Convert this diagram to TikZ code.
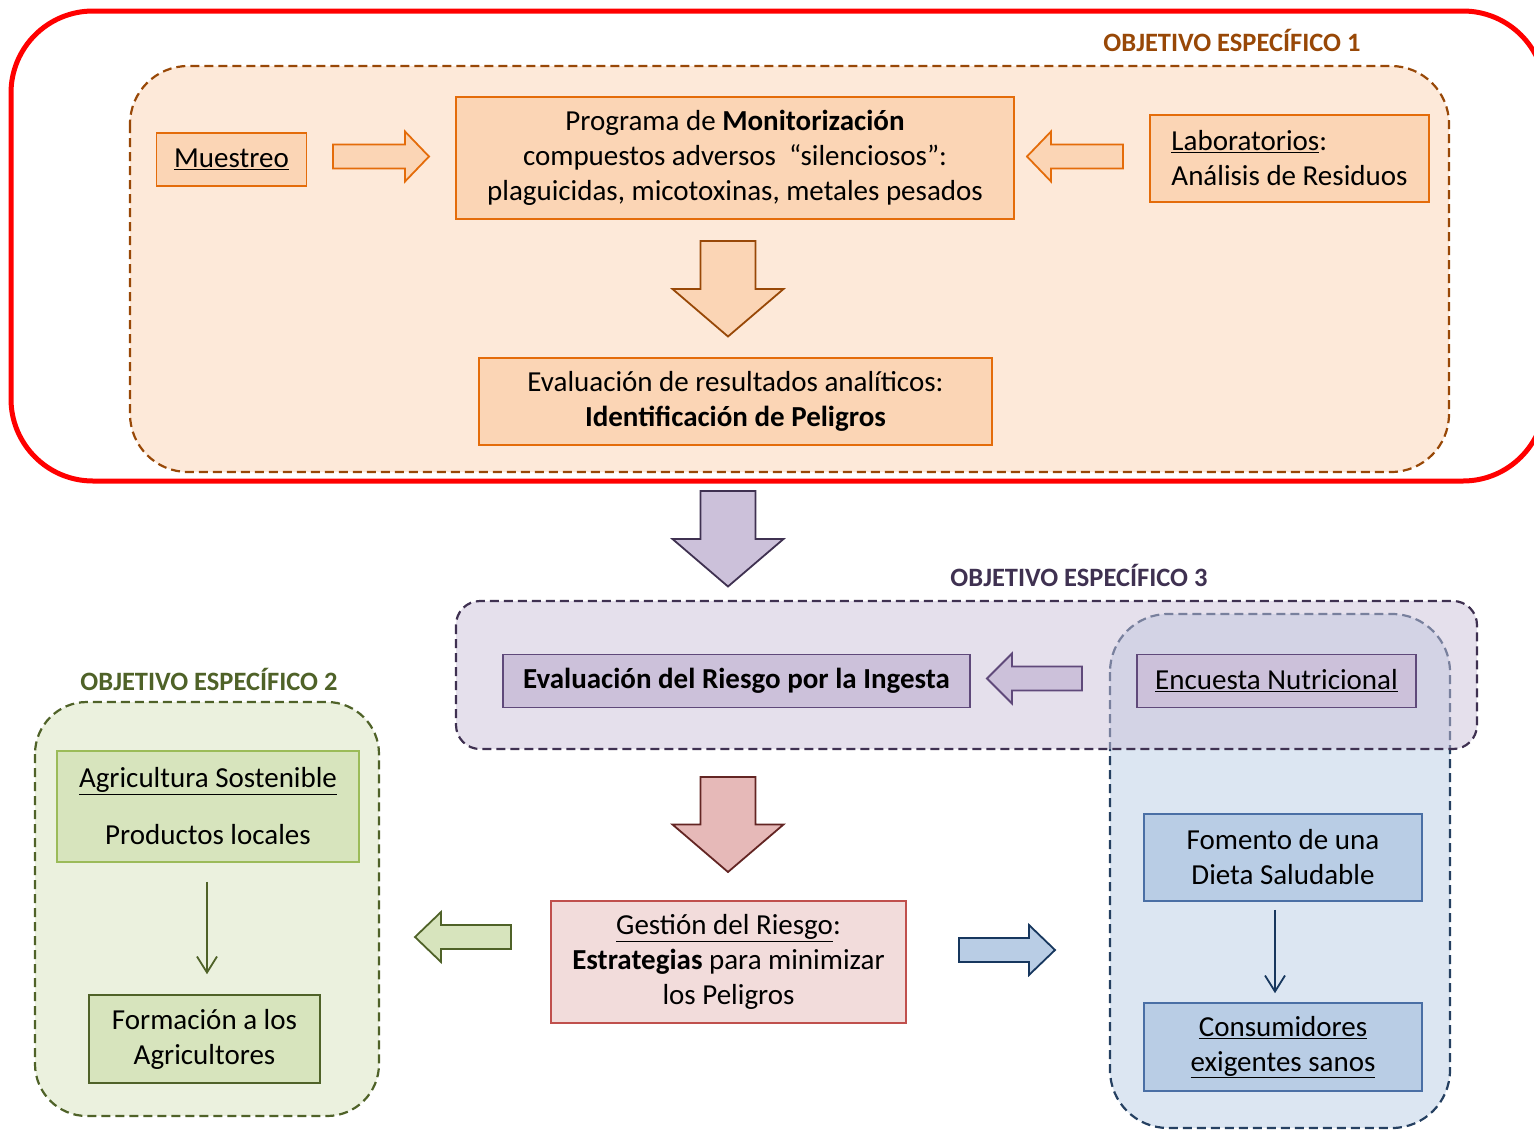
\documentclass[tikz,border=0pt]{standalone}
\usepackage{fontspec}
\setmainfont{Carlito}
\usetikzlibrary{calc,arrows.meta}

\definecolor{frame}{HTML}{FF0000}
\definecolor{obrown}{HTML}{984807}
\definecolor{opale}{HTML}{FDE9D9}
\definecolor{ofill}{HTML}{FBD5B5}
\definecolor{oline}{HTML}{E46C0A}
\definecolor{pdark}{HTML}{3F3151}
\definecolor{pfill}{HTML}{CCC1DA}
\definecolor{pline}{HTML}{5F497A}
\definecolor{rdark}{HTML}{632523}
\definecolor{rarrow}{HTML}{E6B9B8}
\definecolor{rfill}{HTML}{F2DCDB}
\definecolor{rline}{HTML}{C0504D}
\definecolor{gdark}{HTML}{4F6228}
\definecolor{gpale}{HTML}{EBF1DE}
\definecolor{gfill}{HTML}{D7E4BD}
\definecolor{gline}{HTML}{9BBB59}
\definecolor{bdark}{HTML}{254061}
\definecolor{bpale}{HTML}{DCE6F2}
\definecolor{bfill}{HTML}{B9CDE5}
\definecolor{bline}{HTML}{4A6FA5}
\definecolor{barrow}{HTML}{17375E}

% block arrow: style, tail, tip, body half width, head half width, head length
\newcommand{\fatarrow}[6]{%
  \coordinate (fa-s) at ($(#3)!#6!(#2)$);
  \draw[#1] ($(#2)!#4!90:(#3)$) -- ($(fa-s)!#4!90:(#3)$) -- ($(fa-s)!#5!90:(#3)$)
    -- (#3) -- ($(fa-s)!#5!-90:(#3)$) -- ($(fa-s)!#4!-90:(#3)$) -- ($(#2)!#4!-90:(#3)$) -- cycle;}

\begin{document}
\begin{tikzpicture}[x=1pt,y=-1pt,
    tbox/.style={draw, line width=1.6pt, inner sep=0pt, align=center,
      font=\fontsize{29}{35}\selectfont},
    obox/.style={tbox, fill=ofill, draw=oline},
    pbox/.style={tbox, fill=pfill, draw=pline},
    rbox/.style={tbox, fill=rfill, draw=rline},
    gbox/.style={tbox, fill=gfill, draw=gline},
    bbox/.style={tbox, fill=bfill, draw=bline},
    objlabel/.style={font=\bfseries\fontsize{26.5}{30}\selectfont},
    area/.style={line width=2.2pt, dash pattern=on 9pt off 5pt},
    thin/.style={line width=1.8pt, -{Straight Barb[length=16pt,width=20pt]}}]
  \useasboundingbox (0,0) rectangle (1534,1130);

  % objetivo 1
  \draw[line width=5pt, draw=frame, rounded corners=82pt] (11,11) rectangle (1545,481);
  \draw[area, draw=obrown, fill=opale, rounded corners=58pt] (130,66) rectangle (1449,472);
  \node[objlabel, text=obrown] (oe1) at (1232,40) {OBJETIVO ESPECÍFICO 1};

  \node[obox, minimum width=150pt, minimum height=53pt] (muestreo) at (231.5,159.5)
    {\underline{Muestreo}};
  \node[obox, minimum width=558pt, minimum height=122pt] (programa) at (735,158)
    {Programa de \textbf{Monitorización}\\ compuestos adversos\ \ “silenciosos”:\\
     plaguicidas, micotoxinas, metales pesados};
  \node[obox, minimum width=279pt, minimum height=87pt, align=left] (lab)
    at (1289.5,158.5) {\underline{Laboratorios}:\\ Análisis de Residuos};
  \node[obox, minimum width=513pt, minimum height=87pt] (evalres) at (735.5,401.5)
    {Evaluación de resultados analíticos:\\ \textbf{Identificación de Peligros}};

  \coordinate (r1a) at (333,156.5);  \coordinate (r1b) at (429,156.5);
  \coordinate (l1a) at (1123,156.5); \coordinate (l1b) at (1027,156.5);
  \coordinate (d1a) at (728,241);    \coordinate (d1b) at (728,336.5);
  \fatarrow{line width=1.8pt, draw=oline, fill=ofill}{r1a}{r1b}{12pt}{25pt}{24pt}
  \fatarrow{line width=1.8pt, draw=oline, fill=ofill}{l1a}{l1b}{12pt}{25pt}{24pt}
  \fatarrow{line width=1.8pt, draw=obrown, fill=ofill}{d1a}{d1b}{27.5pt}{55.5pt}{47.5pt}

  \coordinate (d2a) at (728,491); \coordinate (d2b) at (728,586.5);
  \fatarrow{line width=1.8pt, draw=pdark, fill=pfill}{d2a}{d2b}{27.5pt}{55.5pt}{47.5pt}

  % objetivo 3 y consumidores
  \draw[area, draw=bdark, fill=bpale, rounded corners=58pt] (1110,614) rectangle (1450,1128);
  \draw[area, draw=pdark, fill=pfill, fill opacity=.5, rounded corners=24pt]
    (456,601) rectangle (1477,749);
  \node[objlabel, text=pdark] (oe3) at (1079,575) {OBJETIVO ESPECÍFICO 3};

  \node[pbox, minimum width=467pt, minimum height=53pt] (evalrisk) at (736.5,681)
    {\textbf{Evaluación del Riesgo por la Ingesta}};
  \node[pbox, minimum width=279pt, minimum height=53pt] (encuesta) at (1276.5,681)
    {\underline{Encuesta Nutricional}};
  \coordinate (l2a) at (1082,678.5); \coordinate (l2b) at (987,678.5);
  \fatarrow{line width=1.8pt, draw=pline, fill=pfill}{l2a}{l2b}{12pt}{25pt}{25pt}

  \node[bbox, minimum width=278pt, minimum height=87pt] (fomento) at (1283,857.5)
    {Fomento de una\\ Dieta Saludable};
  \node[bbox, minimum width=278pt, minimum height=88pt] (consum) at (1283,1047)
    {\underline{Consumidores}\\ \underline{exigentes sanos}};
  \draw[thin, draw=barrow, shorten <=8pt, shorten >=9pt]
    ([xshift=-8pt]fomento.south) -- ([xshift=-8pt]consum.north);

  % gestion del riesgo
  \coordinate (d3a) at (728,777); \coordinate (d3b) at (728,872);
  \fatarrow{line width=1.8pt, draw=rdark, fill=rarrow}{d3a}{d3b}{27.5pt}{55.5pt}{47.5pt}
  \node[rbox, minimum width=355pt, minimum height=122pt] (gestion) at (728.5,962)
    {\underline{Gestión del Riesgo}:\\ \textbf{Estrategias} para minimizar\\ los Peligros};
  \coordinate (l3a) at (511,937); \coordinate (l3b) at (415,937);
  \fatarrow{line width=1.8pt, draw=gdark, fill=gfill}{l3a}{l3b}{12pt}{25pt}{26pt}
  \coordinate (r2a) at (959,950); \coordinate (r2b) at (1055,950);
  \fatarrow{line width=1.8pt, draw=barrow, fill=bfill}{r2a}{r2b}{12pt}{25pt}{26pt}

  % objetivo 2
  \draw[area, draw=gdark, fill=gpale, rounded corners=52pt] (35,702) rectangle (379,1116);
  \node[objlabel, text=gdark] (oe2) at (209,679) {OBJETIVO ESPECÍFICO 2};
  \node[gbox, minimum width=302pt, minimum height=111pt] (agri) at (208,806.5)
    {\underline{Agricultura Sostenible}\\[22pt] Productos locales};
  \node[gbox, draw=gdark, minimum width=231pt, minimum height=88pt] (form) at (204.5,1039)
    {Formación a los\\ Agricultores};
  \draw[thin, draw=gdark, shorten <=19pt, shorten >=20pt]
    ([xshift=-1pt]agri.south) -- ([xshift=-1pt]agri.south |- form.north);
\end{tikzpicture}
\end{document}
